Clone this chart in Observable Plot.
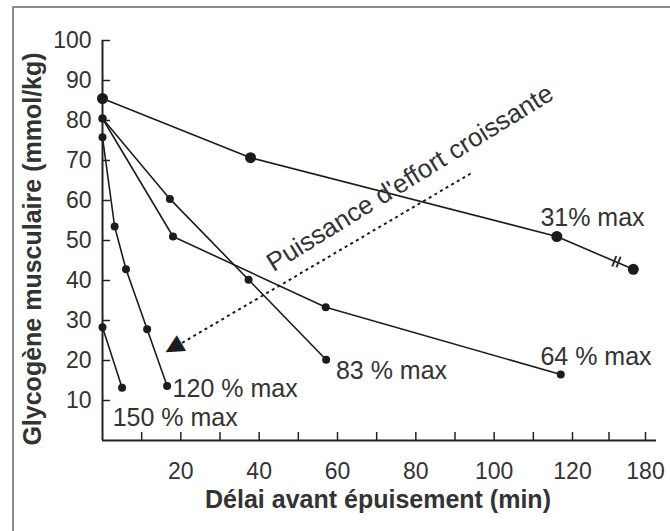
<!DOCTYPE html>
<html>
<head>
<meta charset="utf-8">
<script src="https://cdn.jsdelivr.net/npm/d3@7"></script>
<script src="https://cdn.jsdelivr.net/npm/@observablehq/plot@0.6"></script>
<style>
html, body { margin: 0; padding: 0; background: #fff; }
#wrap { position: relative; width: 670px; height: 531px; overflow: hidden; background: #fff; }
#frame { position: absolute; left: 12px; top: 6px; width: 700px; height: 600px;
  border-left: 2px solid #8c8c8c; border-top: 2px solid #8c8c8c; }
#chart { position: absolute; left: 0; top: 0; }
</style>
</head>
<body>
<div id="wrap"><div id="frame"></div><div id="chart"></div></div>
<script>
// Délai avant épuisement (min) / Glycogène musculaire (mmol/kg)
const t31 = [0, 37.8, 116, 170];
const g31 = [85.5, 70.7, 51, 42.8];
const t64 = [0, 18, 57, 117];
const g64 = [80.5, 51, 33.3, 16.5];
const t83 = [0, 17.2, 37.3, 57.1];
const g83 = [80.5, 60.4, 40.2, 20.2];
const t120 = [0, 3.1, 6, 11.4, 16.5];
const g120 = [75.8, 53.5, 42.8, 27.8, 13.6];
const t150 = [0, 5];
const g150 = [28.3, 13.2];

const seriesNames = ["31% max", "64 % max", "83 % max", "120 % max", "150 % max"];
const seriesT = [t31, t64, t83, t120, t150];
const seriesG = [g31, g64, g83, g120, g150];
const dotR = [5.5, 4, 4, 4, 4];
const labelT = [111.8, 111.8, 59.6, 17.9, 2.6];
const labelG = [55.75, 21, 17.5, 12.9, 5.75];

const xTicks = [10, 20, 30, 40, 50, 60, 70, 80, 90, 100, 110, 120, 150, 180];
const xTickLabels = [20, 40, 60, 80, 100, 120, 180];
const yTicks = [10, 20, 30, 40, 50, 60, 70, 80, 90, 100];

// annotation: arrow "Puissance d'effort croissante"
const arrowFrom = {t: 94, g: 66.75};
const arrowTo = {t: 18.4, g: 23.3};
const arrowHead = {t: 17.8, g: 23.0, text: "▲"};
const arrowText = {t: 78.5, g: 65.6, text: "Puissance d'effort croissante"};
const breakMark = {t: 156, g: 44.6, text: "//"};

const rows = [];
seriesNames.forEach((name, i) => {
  seriesT[i].forEach((t, j) => rows.push({serie: name, t, g: seriesG[i][j], r: dotR[i]}));
});
const labels = seriesNames.map((name, i) => ({text: name, t: labelT[i], g: labelG[i]}));

const ink = "#1c1c1c";
const txt = "#333";

const chart = Plot.plot({
  width: 670,
  height: 531,
  marginLeft: 102,
  marginRight: 25,
  marginTop: 40,
  marginBottom: 91,
  x: {type: "linear", domain: [0, 120, 180], range: [102, 572, 645]},
  y: {type: "linear", domain: [0, 100], range: [440, 40]},
  r: {type: "identity"},
  style: {fontFamily: "'Liberation Sans', Arial, Helvetica, sans-serif", color: txt, background: "transparent"},
  marks: [
    // axes lines
    Plot.ruleX([0], {y1: 0, y2: 100, stroke: "#222", strokeWidth: 2}),
    Plot.ruleY([0], {x1: 0, x2: 189, stroke: "#222", strokeWidth: 2}),
    Plot.axisY({ticks: yTicks, tickSize: -8, tickPadding: 19, fontSize: 23, label: null,
      stroke: "#222", strokeWidth: 1.5, fill: txt, tickFormat: d => String(d)}),
    Plot.axisX({ticks: xTicks, tickSize: -8, tickPadding: 30, fontSize: 23, label: null,
      stroke: "#222", strokeWidth: 1.5, fill: txt,
      tickFormat: d => xTickLabels.includes(d) ? String(d) : ""}),
    // axis titles
    Plot.text(["Délai avant épuisement (min)"], {frameAnchor: "bottom", textAnchor: "middle", lineAnchor: "middle",
      dx: 4, dy: 59, fontSize: 25, fontWeight: "bold", fill: txt}),
    Plot.text(["Glycogène musculaire (mmol/kg)"], {frameAnchor: "left", textAnchor: "middle", lineAnchor: "middle",
      rotate: -90, dx: -70, dy: 8.5, fontSize: 25, fontWeight: "bold", fill: txt}),
    // series lines
    Plot.line(rows, {x: "t", y: "g", z: "serie", stroke: ink, strokeWidth: 1.6}),
    Plot.dot(rows, {x: "t", y: "g", r: "r", fill: ink, stroke: null}),
    // labels
    Plot.text(labels, {x: "t", y: "g", text: "text", textAnchor: "start", fontSize: 25, fill: txt}),
    // break mark on the 31% line
    Plot.text([breakMark], {x: "t", y: "g", text: "text", fontSize: 15, fontWeight: "bold", fill: ink, rotate: 10}),
    // dashed arrow
    Plot.link([{x1: arrowFrom.t, y1: arrowFrom.g, x2: arrowTo.t, y2: arrowTo.g}],
      {x1: "x1", y1: "y1", x2: "x2", y2: "y2", stroke: ink, strokeWidth: 2, strokeDasharray: "3,3.5"}),
    Plot.text([arrowHead], {x: "t", y: "g", text: "text", rotate: 239.6, fontSize: 24,
      fontFamily: "'DejaVu Sans', sans-serif", fill: ink}),
    Plot.text([arrowText], {x: "t", y: "g", text: "text", rotate: -31.7, fontSize: 26, fill: txt})
  ]
});
document.getElementById("chart").appendChild(chart);
</script>
</body>
</html>
